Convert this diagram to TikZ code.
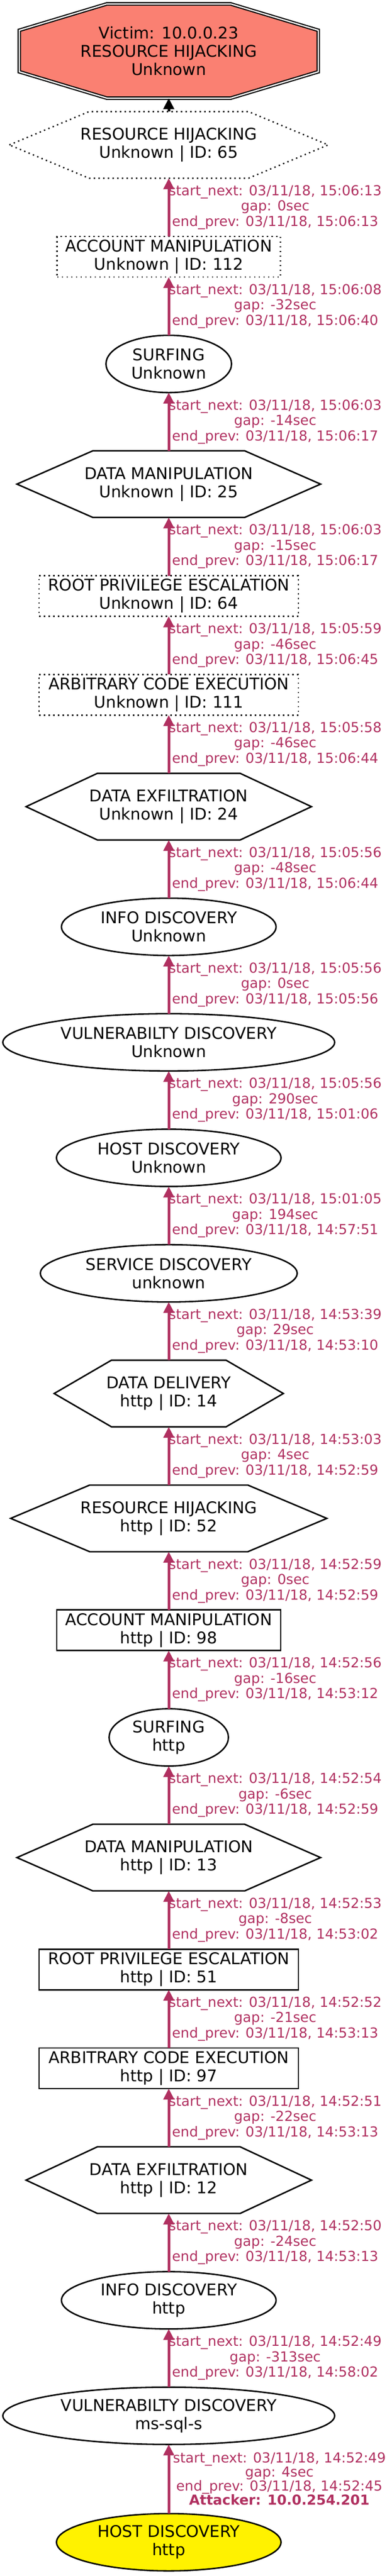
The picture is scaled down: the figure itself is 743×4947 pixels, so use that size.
\documentclass[tikz,border=0pt]{standalone}
\usepackage{fontspec}
\setmainfont{DejaVu Sans}
\usepackage{tikz}
\usetikzlibrary{arrows.meta,positioning,chains,shapes.geometric,backgrounds,calc}

\definecolor{linkred}{HTML}{B03060}
\definecolor{victimred}{HTML}{FA8072}

\newcommand{\hexframe}[2][]{%
	\draw [line width=2.8pt, #1] (#2.west) -- ($(#2.north west)!.25!(#2.north east)$) -- ($(#2.north west)!.75!(#2.north east)$) -- (#2.east) -- ($(#2.south west)!.75!(#2.south east)$) -- ($(#2.south west)!.25!(#2.south east)$) -- cycle;}
\newcommand{\octframe}[2][]{%
	\draw [#1] ($(#2.north west)!.293!(#2.north east)$) -- ($(#2.north west)!.707!(#2.north east)$) -- ($(#2.north east)!.28!(#2.south east)$) -- ($(#2.north east)!.72!(#2.south east)$) -- ($(#2.south west)!.707!(#2.south east)$) -- ($(#2.south west)!.293!(#2.south east)$) -- ($(#2.north west)!.72!(#2.south west)$) -- ($(#2.north west)!.28!(#2.south west)$) -- cycle;}
\newcommand{\timing}[3]{start\_next: 03/11/18, #1\\gap: #2sec\\end\_prev: 03/11/18, #3}

\begin{document}
\begin{tikzpicture}[
	x=1pt, y=1pt,
	start chain=going below,
	node distance=111.8pt,
	every node/.style={
		font=\fontsize{31}{35}\selectfont,
		align=center,
		inner sep=0pt,
		outer sep=0pt
		},
	box/.style={
		on chain,
		rectangle,
		draw,
		line width=2.8pt,
		minimum width=498pt,
		minimum height=78pt
		},
	oval/.style={
		on chain,
		ellipse,
		draw,
		line width=2.8pt,
		minimum height=110pt
		},
	hexa/.style={
		on chain,
		rectangle,
		minimum height=128pt
		},
	dotline/.style={
		line width=2.6pt,
		dash pattern=on 2.6pt off 6.4pt
	},
	link/.style={
		draw=linkred,
		line width=5pt,
		-{Triangle[width=20pt,length=21pt]}
	},
	lbl/.style={
		anchor=west,
		text=linkred,
		font=\fontsize{26.5}{29.5}\selectfont
	}
]
\useasboundingbox (0,0) rectangle (743,-4947);

% Victim
\node [on chain, rectangle, minimum width=574pt, minimum height=181pt] (victim) at (324,-98) {Victim: 10.0.0.23\\RESOURCE HIJACKING\\Unknown};

% Steps, Unknown
\node [hexa, yshift=86pt, minimum width=612pt] (rhu) {RESOURCE HIJACKING\\Unknown | ID: 65};
\node [box, dotline, minimum width=429pt] (amu) {ACCOUNT MANIPULATION\\Unknown | ID: 112};
\node [oval, minimum width=241pt] (surfu) {SURFING\\Unknown};
\node [hexa, minimum width=583pt] (dmu) {DATA MANIPULATION\\Unknown | ID: 25};
\node [box, dotline] (rpeu) {ROOT PRIVILEGE ESCALATION\\Unknown | ID: 64};
\node [box, dotline] (aceu) {ARBITRARY CODE EXECUTION\\Unknown | ID: 111};
\node [hexa, minimum width=548pt] (deu) {DATA EXFILTRATION\\Unknown | ID: 24};
\node [oval, minimum width=412pt] (infou) {INFO DISCOVERY\\Unknown};
\node [oval, minimum width=637pt] (vulnu) {VULNERABILTY DISCOVERY\\Unknown};
\node [oval, minimum width=431pt] (hostu) {HOST DISCOVERY\\Unknown};
\node [oval, minimum width=493pt] (servu) {SERVICE DISCOVERY\\unknown};

% Steps, http
\node [hexa, minimum width=440pt] (ddh) {DATA DELIVERY\\http | ID: 14};
\node [hexa, minimum width=607pt] (rhh) {RESOURCE HIJACKING\\http | ID: 52};
\node [box, minimum width=430pt] (amh) {ACCOUNT MANIPULATION\\http | ID: 98};
\node [oval, minimum width=229pt] (surfh) {SURFING\\http};
\node [hexa, minimum width=583pt] (dmh) {DATA MANIPULATION\\http | ID: 13};
\node [box] (rpeh) {ROOT PRIVILEGE ESCALATION\\http | ID: 51};
\node [box] (aceh) {ARBITRARY CODE EXECUTION\\http | ID: 97};
\node [hexa, minimum width=548pt] (deh) {DATA EXFILTRATION\\http | ID: 12};
\node [oval, minimum width=412pt] (infoh) {INFO DISCOVERY\\http};
\node [oval, minimum width=637pt] (vulnms) {VULNERABILTY DISCOVERY\\ms-sql-s};
\node [oval, minimum width=431pt, fill=yellow, yshift=-21pt] (hosth) {HOST DISCOVERY\\http};

% Frames
\begin{scope}[on background layer]
\octframe[fill=victimred, double, double distance=2.5pt, line width=2.2pt]{victim}
\end{scope}
\hexframe[dotline]{rhu}
\hexframe{dmu}
\hexframe{deu}
\hexframe{ddh}
\hexframe{rhh}
\hexframe{dmh}
\hexframe{deh}

% Links
\draw [link, draw=black] (rhu) -- (victim);
\draw [link] (amu) -- node [lbl] {\timing{15:06:13}{0}{15:06:13}} (rhu);
\draw [link] (surfu) -- node [lbl] {\timing{15:06:08}{-32}{15:06:40}} (amu);
\draw [link] (dmu) -- node [lbl] {\timing{15:06:03}{-14}{15:06:17}} (surfu);
\draw [link] (rpeu) -- node [lbl] {\timing{15:06:03}{-15}{15:06:17}} (dmu);
\draw [link] (aceu) -- node [lbl] {\timing{15:05:59}{-46}{15:06:45}} (rpeu);
\draw [link] (deu) -- node [lbl] {\timing{15:05:58}{-46}{15:06:44}} (aceu);
\draw [link] (infou) -- node [lbl] {\timing{15:05:56}{-48}{15:06:44}} (deu);
\draw [link] (vulnu) -- node [lbl] {\timing{15:05:56}{0}{15:05:56}} (infou);
\draw [link] (hostu) -- node [lbl] {\timing{15:05:56}{290}{15:01:06}} (vulnu);
\draw [link] (servu) -- node [lbl] {\timing{15:01:05}{194}{14:57:51}} (hostu);
\draw [link] (ddh) -- node [lbl] {\timing{14:53:39}{29}{14:53:10}} (servu);
\draw [link] (rhh) -- node [lbl] {\timing{14:53:03}{4}{14:52:59}} (ddh);
\draw [link] (amh) -- node [lbl] {\timing{14:52:59}{0}{14:52:59}} (rhh);
\draw [link] (surfh) -- node [lbl] {\timing{14:52:56}{-16}{14:53:12}} (amh);
\draw [link] (dmh) -- node [lbl] {\timing{14:52:54}{-6}{14:52:59}} (surfh);
\draw [link] (rpeh) -- node [lbl] {\timing{14:52:53}{-8}{14:53:02}} (dmh);
\draw [link] (aceh) -- node [lbl] {\timing{14:52:52}{-21}{14:53:13}} (rpeh);
\draw [link] (deh) -- node [lbl] {\timing{14:52:51}{-22}{14:53:13}} (aceh);
\draw [link] (infoh) -- node [lbl] {\timing{14:52:50}{-24}{14:53:13}} (deh);
\draw [link] (vulnms) -- node [lbl] {\timing{14:52:49}{-313}{14:58:02}} (infoh);
\draw [link] (hosth) -- node [lbl, xshift=8pt, font=\fontsize{26.5}{27}\selectfont] {\timing{14:52:49}{4}{14:52:45}\\\textbf{Attacker: 10.0.254.201}} (vulnms);

\end{tikzpicture}
\end{document}
